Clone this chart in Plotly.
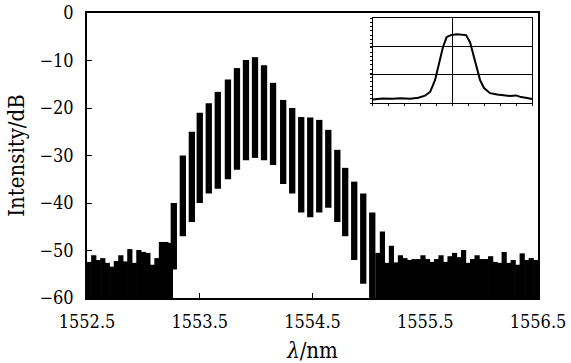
import plotly.graph_objects as go

# ---- main spectrum data (wavelength in nm, intensity in dB) ----
noise_left_wl = [1552.52, 1552.56, 1552.60, 1552.64, 1552.68, 1552.72, 1552.76, 1552.80,
                 1552.84, 1552.88, 1552.92, 1552.96, 1553.00, 1553.04, 1553.08, 1553.12,
                 1553.16, 1553.20, 1553.24]
noise_left_db = [-52.4, -51.0, -52.0, -51.6, -52.6, -53.4, -52.2, -51.0,
                 -52.3, -49.7, -52.6, -49.9, -50.3, -50.5, -53.0, -51.6,
                 -48.2, -48.2, -48.4]

peak_wl = [1553.27, 1553.35, 1553.43, 1553.50, 1553.58, 1553.66, 1553.75, 1553.83,
           1553.91, 1553.99, 1554.07, 1554.15, 1554.24, 1554.32, 1554.40, 1554.48,
           1554.56, 1554.64, 1554.72, 1554.79, 1554.87, 1554.95, 1555.03]
peak_top_db = [-40.0, -30.0, -25.0, -21.0, -19.0, -16.6, -14.0, -11.6,
               -9.9, -9.3, -11.0, -14.7, -18.3, -20.0, -21.9, -22.0,
               -22.5, -24.6, -28.8, -32.6, -35.5, -38.0, -42.0]
peak_bottom_db = [-54.0, -47.0, -44.0, -40.0, -38.0, -37.0, -35.0, -33.0,
                  -31.0, -30.5, -31.0, -32.0, -36.0, -38.0, -42.0, -43.0,
                  -42.0, -41.0, -44.0, -47.0, -52.0, -57.0, -60.0]

noise_right_wl = [1555.08, 1555.12, 1555.16, 1555.20, 1555.24, 1555.28, 1555.32, 1555.36,
                  1555.40, 1555.44, 1555.48, 1555.52, 1555.56, 1555.60, 1555.64, 1555.68,
                  1555.72, 1555.76, 1555.80, 1555.84, 1555.88, 1555.92, 1555.96, 1556.00,
                  1556.04, 1556.08, 1556.12, 1556.16, 1556.20, 1556.24, 1556.28, 1556.32,
                  1556.36, 1556.40, 1556.44, 1556.48]
noise_right_db = [-50.5, -46.0, -52.6, -49.0, -52.5, -51.0, -51.6, -52.0,
                  -51.8, -51.8, -51.0, -51.8, -52.4, -51.8, -51.0, -52.4,
                  -51.2, -50.5, -51.4, -49.9, -52.6, -51.8, -51.0, -51.8,
                  -51.8, -51.2, -52.4, -52.6, -50.3, -52.6, -52.0, -53.0,
                  -50.6, -52.0, -51.6, -52.0]

FLOOR_DB = -60

# ---- inset data (arbitrary units) ----
inset_x = [-5.0, -4.4, -3.74, -3.3, -2.67, -2.2, -2.15, -1.73, -1.4, -1.1, -0.85, -0.6,
           -0.37, -0.1, 0.26, 0.6, 0.85, 1.1, 1.41, 1.73, 1.98, 2.36, 2.8, 3.18, 3.6,
           4.0, 4.3, 4.68, 5.0]
inset_y = [0.13, 0.16, 0.15, 0.17, 0.15, 0.19, 0.19, 0.26, 0.40, 0.81, 1.40, 1.98,
           2.33, 2.40, 2.43, 2.42, 2.40, 2.15, 1.52, 0.81, 0.53, 0.35, 0.30, 0.28,
           0.25, 0.27, 0.21, 0.18, 0.14]

FONT = "DejaVu Serif Condensed, DejaVu Serif"

fig = go.Figure()

fig.add_trace(go.Bar(
    x=noise_left_wl + noise_right_wl,
    y=[v - FLOOR_DB for v in noise_left_db + noise_right_db],
    base=FLOOR_DB, width=0.046,
    marker=dict(color="black", line=dict(width=0)),
    showlegend=False, xaxis="x", yaxis="y"))

fig.add_trace(go.Bar(
    x=peak_wl,
    y=[t - b for t, b in zip(peak_top_db, peak_bottom_db)],
    base=peak_bottom_db, width=0.056,
    marker=dict(color="black", line=dict(width=0)),
    showlegend=False, xaxis="x", yaxis="y"))

fig.add_trace(go.Scatter(
    x=inset_x, y=inset_y, mode="lines",
    line=dict(color="black", width=2),
    showlegend=False, xaxis="x2", yaxis="y2"))

fig.update_layout(
    width=571, height=363,
    margin=dict(l=87, r=33, t=13, b=65),
    paper_bgcolor="white", plot_bgcolor="white",
    font=dict(family=FONT, size=18, color="black"),
    barmode="overlay",
    xaxis=dict(
        range=[1552.5, 1556.5], tickvals=[1552.5, 1553.5, 1554.5, 1555.5, 1556.5],
        ticktext=["1552.5", "1553.5", "1554.5", "1555.5", "1556.5"],
        ticks="inside", ticklen=5, tickcolor="black", tickwidth=1,
        showline=True, linecolor="black", linewidth=1.5, mirror=True,
        showgrid=False, zeroline=False, automargin=False,
        title=dict(text="<i>λ</i>/nm", standoff=13),
        ticklabelstandoff=7,
    ),
    yaxis=dict(
        range=[-60, 0], tickvals=[0, -10, -20, -30, -40, -50, -60],
        ticks="inside", ticklen=5, tickcolor="black", tickwidth=1,
        showline=True, linecolor="black", linewidth=1.5, mirror=True,
        showgrid=False, zeroline=False, automargin=False,
        title=dict(text="Intensity/dB", standoff=9),
        ticklabelstandoff=8,
    ),
    xaxis2=dict(
        domain=[0.634, 0.987], anchor="y2", range=[-5, 5],
        tickvals=[-5, -4, -3, -2, -1, 0, 1, 2, 3, 4, 5],
        ticks="outside", ticklen=2, tickcolor="black", tickwidth=1,
        showticklabels=False, showgrid=False, automargin=False,
        zeroline=True, zerolinecolor="black", zerolinewidth=1.2,
        showline=True, linecolor="black", linewidth=1, mirror=True,
    ),
    yaxis2=dict(
        domain=[0.684, 0.982], anchor="x2", range=[0, 3],
        dtick=1, ticks="outside", ticklen=2, tickcolor="black",
        showticklabels=False, showgrid=True, gridcolor="black", gridwidth=1,
        zeroline=False, automargin=False,
        minor=dict(dtick=0.15, ticks="outside", ticklen=2, tickcolor="black", showgrid=False),
        showline=True, linecolor="black", linewidth=1, mirror=True,
    ),
)

fig.write_html("out.html")
